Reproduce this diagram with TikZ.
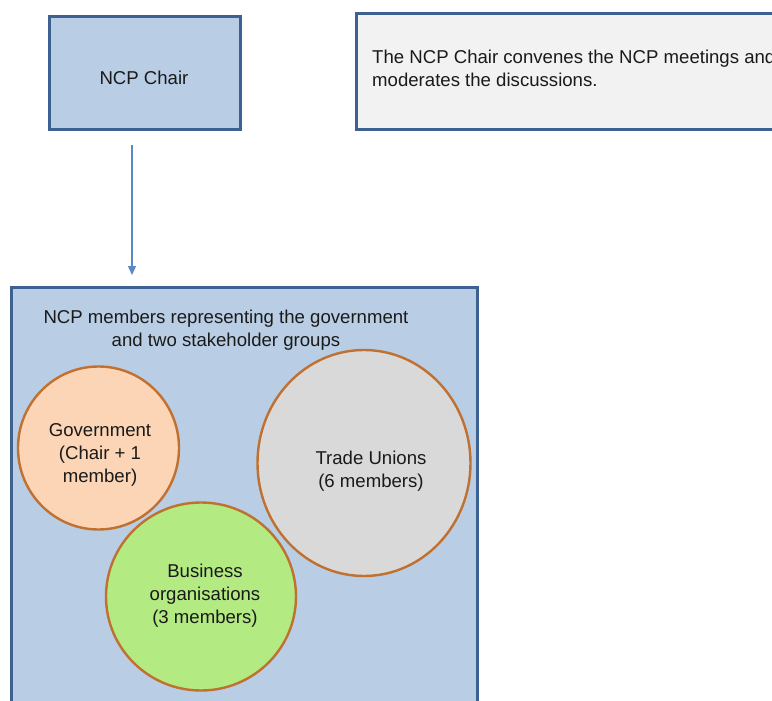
\documentclass[tikz,border=0pt]{standalone}
\usepackage{fontspec}
\setmainfont{Liberation Sans}
\usetikzlibrary{arrows.meta,shapes.geometric}
\definecolor{boxblue}{HTML}{B9CDE5}
\definecolor{boxedge}{HTML}{3D6190}
\definecolor{notegray}{HTML}{F2F2F2}
\definecolor{peach}{HTML}{FBD5B5}
\definecolor{tugray}{HTML}{D9D9D9}
\definecolor{bgreen}{HTML}{B3EA82}
\definecolor{ringedge}{HTML}{C0702F}
\definecolor{arrowblue}{HTML}{5A8AC6}
\definecolor{txt}{HTML}{1A1A1A}
\tikzset{
  bigbox/.style={draw=boxedge,line width=3pt},
  ring/.style={draw=ringedge,line width=2.4pt},
  lbl/.style={text=txt,font=\fontsize{18.6}{23}\selectfont,align=center,inner sep=0pt},
}
\begin{document}
\begin{tikzpicture}[x=1pt,y=-1pt]
\useasboundingbox (0,0) rectangle (772,701);
\clip (0,0) rectangle (772,701);
% NCP Chair box
\draw[bigbox,fill=boxblue] (49,17) rectangle (240,130);
\node[lbl] (chair) at (144,78) {NCP Chair};
% note box
\draw[bigbox,fill=notegray] (356,14) rectangle (820,130);
\node[lbl,align=left,anchor=west] (note) at (372,68.5) {The NCP Chair convenes the NCP meetings and\\moderates the discussions.};
% arrow
\coordinate (arrS) at (132,145);
\coordinate (arrE) at (132,275);
\draw[arrowblue,line width=1.3pt,-{Triangle[width=8pt,length=9pt]}] (arrS) -- (arrE);
% members box
\draw[bigbox,fill=boxblue] (11,287) rectangle (477,780);
\node[lbl] (members) at (226,330.5) {NCP members representing the government\\and two stakeholder groups};
% circles
\node[ring,fill=peach,ellipse,minimum width=161pt,minimum height=163pt,inner sep=0pt] (gov) at (98.5,448) {};
\node[lbl] (govt) at (100,455) {Government\\(Chair + 1\\member)};
\node[ring,fill=tugray,ellipse,minimum width=213pt,minimum height=226pt,inner sep=0pt] (tu) at (364,463) {};
\node[lbl] (tut) at (371,471) {Trade Unions\\(6 members)};
\node[ring,fill=bgreen,ellipse,minimum width=190pt,minimum height=188pt,inner sep=0pt] (bus) at (201,596.5) {};
\node[lbl] (bust) at (205,595.5) {Business\\organisations\\(3 members)};
\end{tikzpicture}
\end{document}
